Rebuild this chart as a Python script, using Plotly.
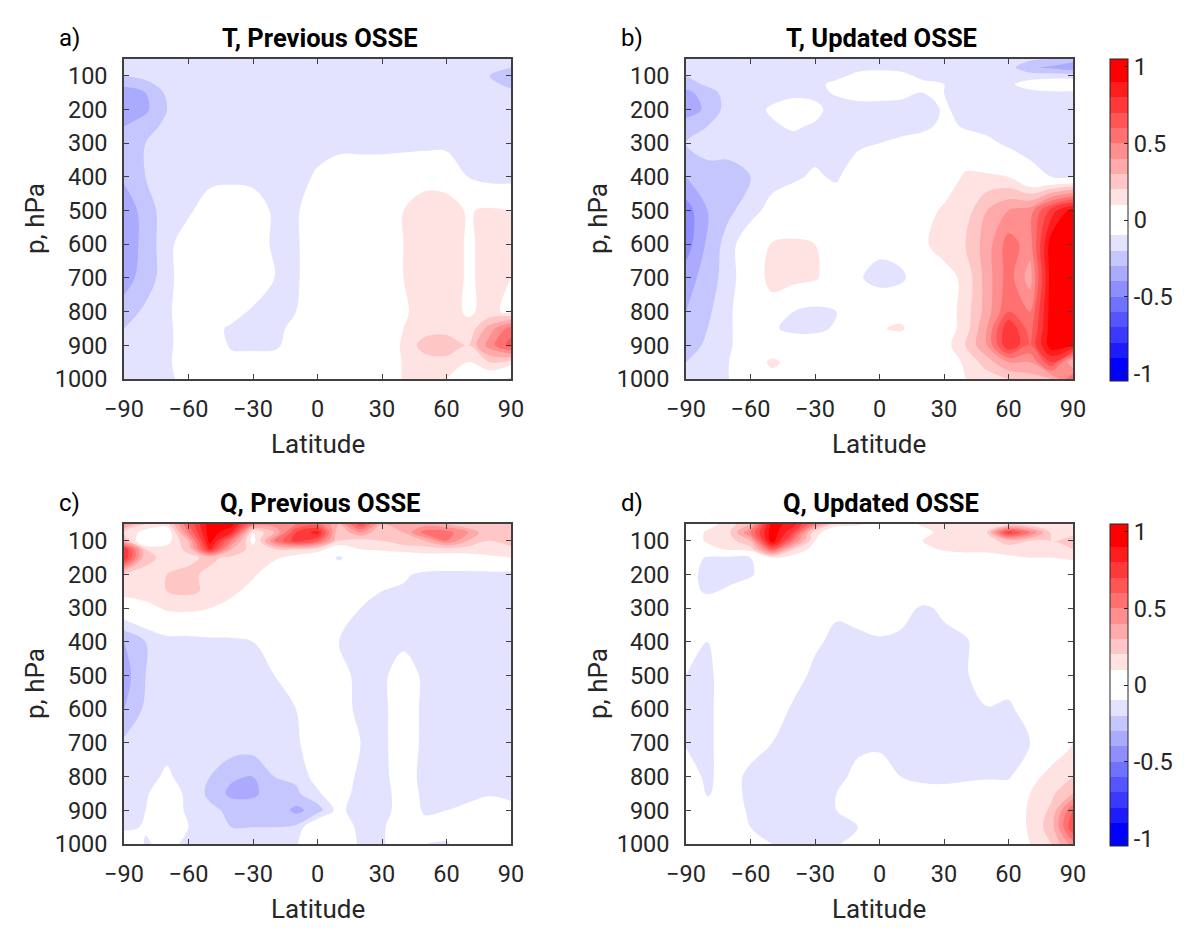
import plotly.graph_objects as go

# grid (lat every 10 deg, pressure in hPa)
latitudes = [-90, -80, -70, -60, -50, -40, -30, -20, -10, 0, 10, 20, 30, 40, 50, 60, 70, 80, 90]
pressure_levels = [50, 75, 100, 125, 150, 200, 250, 300, 400, 500, 600, 700, 800, 850, 900, 950, 1000]

t_previous = [
    [-0.2, -0.18, -0.18, -0.2, -0.17, -0.17, -0.17, -0.18, -0.17, -0.17, -0.18, -0.17, -0.17, -0.17, -0.17, -0.17, -0.18, -0.2, -0.2],
    [-0.2, -0.18, -0.17, -0.17, -0.17, -0.17, -0.17, -0.17, -0.17, -0.17, -0.17, -0.17, -0.17, -0.17, -0.17, -0.17, -0.17, -0.18, -0.2],
    [-0.2, -0.18, -0.17, -0.17, -0.17, -0.17, -0.17, -0.17, -0.17, -0.17, -0.17, -0.17, -0.17, -0.17, -0.17, -0.17, -0.18, -0.2, -0.25],
    [-0.28, -0.22, -0.17, -0.16, -0.16, -0.16, -0.16, -0.16, -0.16, -0.16, -0.16, -0.16, -0.16, -0.16, -0.16, -0.16, -0.17, -0.18, -0.22],
    [-0.35, -0.3, -0.18, -0.16, -0.16, -0.16, -0.16, -0.16, -0.16, -0.16, -0.16, -0.16, -0.16, -0.16, -0.16, -0.16, -0.15, -0.15, -0.18],
    [-0.38, -0.32, -0.2, -0.16, -0.16, -0.16, -0.16, -0.16, -0.16, -0.16, -0.16, -0.16, -0.16, -0.16, -0.15, -0.12, -0.15, -0.15, -0.15],
    [-0.3, -0.25, -0.17, -0.15, -0.14, -0.14, -0.15, -0.16, -0.16, -0.16, -0.16, -0.16, -0.16, -0.16, -0.15, -0.14, -0.15, -0.15, -0.15],
    [-0.25, -0.2, -0.15, -0.13, -0.13, -0.13, -0.15, -0.15, -0.15, -0.15, -0.15, -0.15, -0.15, -0.15, -0.15, -0.15, -0.15, -0.15, -0.15],
    [-0.28, -0.2, -0.15, -0.15, -0.15, -0.13, -0.15, -0.15, -0.15, -0.08, 0.0, 0.0, 0.0, 0.03, 0.07, 0.06, -0.1, -0.15, -0.15],
    [-0.38, -0.25, -0.15, -0.13, 0.0, 0.0, 0.0, -0.13, -0.12, 0.0, 0.0, 0.0, 0.0, 0.1, 0.14, 0.14, 0.09, 0.12, 0.1],
    [-0.4, -0.25, -0.15, 0.0, 0.0, 0.0, 0.0, -0.13, -0.12, 0.0, 0.0, 0.0, 0.0, 0.1, 0.14, 0.14, 0.09, 0.12, 0.13],
    [-0.35, -0.25, -0.15, 0.0, 0.0, 0.0, 0.0, -0.1, -0.12, 0.0, 0.0, 0.0, 0.0, 0.1, 0.14, 0.14, 0.09, 0.12, 0.1],
    [-0.25, -0.18, -0.13, 0.0, 0.0, -0.05, -0.12, -0.12, -0.1, 0.0, 0.0, 0.0, 0.0, 0.09, 0.13, 0.13, 0.09, 0.12, 0.08],
    [-0.2, -0.17, -0.14, 0.0, -0.06, -0.12, -0.12, -0.12, -0.08, 0.0, 0.0, 0.0, 0.0, 0.1, 0.15, 0.15, 0.12, 0.35, 0.55],
    [-0.2, -0.17, -0.14, 0.0, 0.0, -0.12, -0.12, -0.12, -0.05, 0.0, 0.0, 0.0, 0.0, 0.12, 0.25, 0.28, 0.2, 0.45, 0.65],
    [-0.17, -0.16, -0.13, 0.0, 0.0, -0.05, -0.06, -0.05, 0.0, 0.0, 0.0, 0.0, 0.0, 0.11, 0.15, 0.15, 0.1, 0.2, 0.15],
    [-0.15, -0.15, -0.13, -0.05, 0.0, 0.0, 0.0, 0.0, 0.0, 0.0, 0.0, 0.0, 0.0, 0.11, 0.12, 0.1, 0.05, 0.0, -0.13],
]

t_updated = [
    [-0.17, -0.15, -0.15, -0.15, -0.15, -0.15, -0.15, -0.15, -0.15, -0.15, -0.15, -0.15, -0.15, -0.15, -0.15, -0.15, -0.18, -0.2, -0.25],
    [-0.18, -0.15, -0.15, -0.15, -0.15, -0.15, -0.15, -0.15, -0.15, -0.15, -0.15, -0.15, -0.15, -0.15, -0.15, -0.16, -0.28, -0.32, -0.38],
    [-0.2, -0.15, -0.15, -0.15, -0.15, -0.15, -0.15, -0.15, -0.05, 0.0, -0.05, -0.14, -0.15, -0.15, -0.15, -0.15, -0.15, -0.15, -0.15],
    [-0.25, -0.18, -0.15, -0.15, -0.15, -0.15, -0.15, -0.05, 0.0, 0.0, 0.0, -0.06, -0.1, -0.15, -0.15, -0.12, -0.05, 0.0, 0.0],
    [-0.33, -0.25, -0.15, -0.15, -0.15, -0.15, -0.15, -0.08, 0.0, 0.0, -0.03, -0.1, -0.1, -0.15, -0.15, -0.15, -0.13, -0.12, -0.12],
    [-0.35, -0.28, -0.15, -0.15, -0.08, 0.0, -0.05, -0.18, -0.2, -0.2, -0.2, -0.18, -0.08, -0.15, -0.15, -0.15, -0.15, -0.15, -0.15],
    [-0.25, -0.2, -0.15, -0.15, -0.12, -0.08, -0.12, -0.18, -0.2, -0.2, -0.18, -0.15, -0.05, -0.12, -0.15, -0.15, -0.15, -0.15, -0.15],
    [-0.2, -0.18, -0.18, -0.15, -0.15, -0.15, -0.15, -0.15, -0.13, -0.1, -0.05, 0.0, 0.0, 0.0, -0.06, -0.13, -0.15, -0.15, -0.15],
    [-0.3, -0.22, -0.22, -0.2, -0.15, -0.12, -0.08, -0.12, 0.0, 0.0, 0.0, 0.0, 0.02, 0.12, 0.12, 0.1, -0.05, -0.1, -0.1],
    [-0.45, -0.3, -0.22, -0.15, -0.05, 0.0, 0.0, 0.0, 0.0, 0.0, 0.0, 0.05, 0.12, 0.15, 0.3, 0.4, 0.45, 0.75, 0.95],
    [-0.45, -0.28, -0.15, 0.0, 0.11, 0.12, 0.1, 0.05, 0.0, -0.05, -0.03, 0.08, 0.15, 0.2, 0.35, 0.55, 0.45, 0.97, 0.97],
    [-0.35, -0.25, -0.15, 0.0, 0.15, 0.15, 0.12, 0.0, -0.08, -0.16, -0.13, 0.0, 0.05, 0.13, 0.35, 0.55, 0.35, 0.97, 0.97],
    [-0.3, -0.22, -0.12, 0.0, 0.03, -0.1, -0.14, -0.1, 0.0, 0.05, 0.05, 0.0, 0.03, 0.15, 0.35, 0.6, 0.5, 0.97, 0.97],
    [-0.25, -0.2, -0.12, 0.0, -0.08, -0.14, -0.14, -0.08, 0.0, 0.09, 0.12, 0.0, 0.03, 0.15, 0.4, 0.8, 0.55, 0.97, 0.97],
    [-0.25, -0.18, -0.12, 0.0, 0.0, 0.0, 0.0, 0.0, 0.0, 0.0, 0.0, 0.0, 0.05, 0.2, 0.4, 0.8, 0.6, 0.97, 0.9],
    [-0.2, -0.15, -0.1, 0.0, 0.13, 0.05, 0.0, 0.0, 0.0, 0.0, 0.0, 0.0, 0.02, 0.12, 0.25, 0.4, 0.4, 0.7, 0.3],
    [-0.15, -0.14, -0.1, 0.0, 0.05, 0.0, 0.0, 0.0, 0.0, 0.0, 0.0, 0.0, 0.0, 0.1, 0.15, 0.2, 0.25, 0.3, 0.6],
]

q_previous = [
    [0.4, 0.2, 0.15, 0.6, 0.97, 0.95, 0.5, 0.45, 0.5, 0.55, 0.3, 0.7, 0.3, 0.3, 0.35, 0.3, 0.2, 0.2, 0.2],
    [0.2, 0.05, 0.0, 0.5, 0.97, 0.8, 0.1, 0.3, 0.7, 0.85, 0.2, 0.4, 0.2, 0.3, 0.55, 0.55, 0.4, 0.2, 0.25],
    [0.3, -0.05, 0.05, 0.3, 0.95, 0.5, 0.05, 0.5, 0.75, 0.6, 0.2, 0.15, 0.2, 0.25, 0.3, 0.5, 0.3, 0.2, 0.3],
    [0.8, 0.2, 0.15, 0.22, 0.8, 0.3, 0.15, 0.2, 0.2, 0.15, 0.0, 0.1, 0.12, 0.15, 0.15, 0.15, 0.15, 0.15, 0.15],
    [0.8, 0.22, 0.18, 0.18, 0.22, 0.18, 0.15, 0.12, 0.05, 0.0, -0.12, 0.0, 0.0, 0.0, 0.05, 0.05, 0.05, 0.08, 0.1],
    [0.18, 0.18, 0.2, 0.22, 0.18, 0.15, 0.12, 0.0, 0.0, 0.0, 0.0, 0.0, -0.05, -0.08, -0.13, -0.14, -0.14, -0.14, -0.14],
    [0.15, 0.17, 0.2, 0.22, 0.18, 0.13, 0.05, 0.0, 0.0, 0.0, 0.0, -0.08, -0.1, -0.12, -0.14, -0.14, -0.14, -0.14, -0.14],
    [0.0, 0.05, 0.12, 0.13, 0.1, 0.05, 0.0, 0.0, 0.0, 0.0, -0.05, -0.1, -0.12, -0.13, -0.14, -0.14, -0.14, -0.14, -0.14],
    [-0.3, -0.2, -0.15, -0.15, -0.13, -0.12, -0.1, -0.05, 0.0, 0.0, -0.1, -0.14, -0.14, -0.14, -0.14, -0.14, -0.14, -0.14, -0.14],
    [-0.35, -0.2, -0.15, -0.13, -0.12, -0.12, -0.12, -0.1, -0.03, 0.0, -0.05, -0.14, -0.14, 0.0, -0.14, -0.14, -0.14, -0.14, -0.14],
    [-0.3, -0.18, -0.14, -0.14, -0.14, -0.14, -0.14, -0.14, -0.1, 0.0, -0.03, -0.14, -0.14, 0.0, -0.14, -0.14, -0.14, -0.14, -0.14],
    [-0.18, -0.15, -0.14, -0.14, -0.14, -0.14, -0.14, -0.14, -0.12, -0.02, 0.0, -0.1, -0.14, 0.0, -0.14, -0.15, -0.16, -0.16, -0.15],
    [-0.15, -0.14, -0.08, -0.15, -0.2, -0.28, -0.3, -0.2, -0.18, -0.05, 0.0, -0.14, -0.14, -0.02, -0.15, -0.18, -0.18, -0.18, -0.16],
    [-0.15, -0.12, 0.0, -0.14, -0.22, -0.33, -0.33, -0.22, -0.22, -0.12, 0.0, -0.18, -0.18, 0.0, -0.14, -0.18, -0.16, -0.12, -0.14],
    [-0.15, -0.1, 0.0, -0.13, -0.18, -0.22, -0.22, -0.22, -0.33, -0.25, -0.05, -0.2, -0.18, 0.0, -0.12, -0.1, -0.05, 0.0, -0.05],
    [-0.15, -0.08, 0.0, -0.1, -0.15, -0.2, -0.2, -0.2, -0.18, 0.05, 0.0, -0.14, -0.12, 0.0, -0.05, 0.0, -0.05, 0.0, 0.0],
    [0.1, -0.12, -0.05, -0.14, -0.14, -0.15, -0.15, -0.15, -0.12, 0.1, 0.0, -0.12, -0.12, 0.0, -0.1, -0.12, 0.0, 0.0, -0.1],
]

q_updated = [
    [0.0, 0.05, 0.15, 0.3, 0.95, 0.85, 0.5, 0.12, 0.12, 0.05, 0.05, 0.12, 0.15, 0.15, 0.15, 0.15, 0.12, 0.12, 0.1],
    [0.0, 0.12, 0.18, 0.5, 0.97, 0.7, 0.12, 0.05, 0.0, 0.0, 0.0, 0.05, 0.15, 0.15, 0.2, 0.75, 0.5, 0.18, 0.15],
    [0.0, 0.12, 0.15, 0.3, 0.97, 0.5, 0.1, 0.0, 0.0, 0.0, 0.0, 0.1, 0.15, 0.15, 0.15, 0.25, 0.2, 0.2, 0.3],
    [0.0, 0.05, 0.12, 0.15, 0.6, 0.2, 0.05, 0.0, 0.0, 0.0, 0.0, 0.05, 0.12, 0.13, 0.13, 0.15, 0.15, 0.15, 0.2],
    [0.0, -0.12, -0.13, -0.1, 0.1, 0.05, 0.0, 0.0, 0.0, 0.0, 0.0, 0.0, 0.0, 0.05, 0.05, 0.08, 0.1, 0.1, 0.12],
    [-0.05, -0.14, -0.14, -0.12, 0.0, 0.0, 0.0, 0.0, 0.0, 0.0, 0.0, 0.0, 0.0, 0.0, 0.0, 0.0, 0.0, 0.0, 0.0],
    [-0.05, -0.12, -0.08, 0.0, 0.0, 0.0, 0.0, 0.0, 0.0, 0.0, 0.0, 0.0, 0.0, 0.0, 0.0, 0.0, 0.0, 0.0, 0.0],
    [0.0, 0.0, 0.0, 0.0, 0.0, 0.0, 0.0, -0.08, -0.05, 0.0, -0.05, -0.12, -0.08, 0.0, 0.0, 0.0, 0.0, 0.0, 0.0],
    [0.0, -0.1, -0.05, 0.0, 0.0, 0.0, -0.08, -0.13, -0.13, -0.12, -0.13, -0.14, -0.13, -0.12, 0.0, 0.0, 0.0, 0.0, 0.0],
    [-0.1, -0.12, -0.05, 0.0, 0.0, -0.05, -0.13, -0.14, -0.14, -0.14, -0.15, -0.16, -0.14, -0.12, 0.0, -0.05, 0.0, 0.0, 0.05],
    [-0.11, -0.12, -0.05, 0.0, -0.03, -0.12, -0.14, -0.15, -0.14, -0.14, -0.15, -0.16, -0.14, -0.12, -0.11, -0.12, -0.05, 0.0, 0.1],
    [-0.11, -0.12, -0.05, -0.05, -0.1, -0.14, -0.14, -0.15, -0.14, -0.14, -0.15, -0.15, -0.14, -0.12, -0.12, -0.13, -0.1, 0.0, 0.1],
    [-0.05, -0.12, -0.05, -0.13, -0.16, -0.17, -0.16, -0.15, -0.05, 0.0, -0.1, -0.13, -0.14, -0.12, -0.12, -0.12, 0.05, 0.15, 0.2],
    [0.0, -0.11, -0.05, -0.13, -0.17, -0.17, -0.15, -0.1, 0.0, 0.0, 0.0, -0.05, -0.05, -0.05, 0.0, 0.0, 0.1, 0.18, 0.3],
    [0.0, -0.05, 0.0, -0.13, -0.15, -0.15, -0.13, -0.1, -0.05, 0.0, 0.0, 0.0, 0.0, 0.0, 0.0, 0.0, 0.12, 0.22, 0.6],
    [0.0, 0.0, 0.0, -0.1, -0.14, -0.14, -0.12, -0.12, -0.1, 0.0, 0.0, 0.0, 0.0, 0.0, 0.0, 0.0, 0.12, 0.25, 0.7],
    [0.0, 0.0, 0.0, -0.05, -0.1, -0.14, -0.1, -0.12, 0.0, 0.0, 0.0, 0.0, 0.0, 0.0, 0.0, 0.0, 0.1, 0.2, 0.45],
]

panel_titles = ["T, Previous OSSE", "T, Updated OSSE", "Q, Previous OSSE", "Q, Updated OSSE"]
panel_letters = ["a)", "b)", "c)", "d)"]
lat_ticks = [-90, -60, -30, 0, 30, 60, 90]
p_ticks = [100, 200, 300, 400, 500, 600, 700, 800, 900, 1000]
cbar_ticks = [-1, -0.5, 0, 0.5, 1]

W, H = 1200, 944
PAGE_PAD = 8  # default body margin of the html page
FONT = "Roboto, 'Open Sans', sans-serif"
INK = "#262626"


def band_color(k):
    # 20 bands of 0.1 from -1 to 1, two white bands around zero
    if k <= 8:
        f = (9 - k) / 9
        v = round(255 * (1 - f))
        return f"rgb({v},{v},255)"
    if k >= 11:
        f = (k - 10) / 9
        v = round(255 * (1 - f))
        return f"rgb(255,{v},{v})"
    return "rgb(255,255,255)"


# plotly samples fill colours at (k+1)/21 for band k when start=-1, end=1, size=0.1
colorscale = [[0.0, band_color(0)]]
for k in range(20):
    colorscale.append([(k + 1) / 21, band_color(k)])
colorscale.append([1.0, band_color(19)])


def px_x(v):
    return (v - PAGE_PAD) / W


def px_y(v):
    return 1 - (v - PAGE_PAD) / H


x_px = [(124, 511), (686, 1073)]
y_px = [(59, 379), (524, 844)]

fig = go.Figure()
fields = [t_previous, t_updated, q_previous, q_updated]
annotations = []
for i, z in enumerate(fields):
    row, col = divmod(i, 2)
    n = i + 1
    xa = "x" if n == 1 else f"x{n}"
    ya = "y" if n == 1 else f"y{n}"
    xl, xr = x_px[col]
    ytop, ybot = y_px[row]
    fig.add_trace(
        go.Contour(
            x=latitudes,
            y=pressure_levels,
            z=z,
            xaxis=xa,
            yaxis=ya,
            autocontour=False,
            contours=dict(start=-1, end=1, size=0.1, coloring="fill", showlines=False),
            line=dict(width=0, smoothing=1.0),
            colorscale=colorscale,
            showscale=(col == 1),
            colorbar=dict(
                x=px_x(1110),
                xanchor="left",
                xpad=0,
                y=px_y((ytop + ybot + 2) / 2),
                yanchor="middle",
                ypad=0,
                len=(ybot - ytop + 2) / H,
                lenmode="fraction",
                thickness=18,
                thicknessmode="pixels",
                outlinecolor=INK,
                outlinewidth=1,
                tickvals=cbar_ticks,
                ticktext=["-1", "-0.5", "0", "0.5", "1"],
                ticks="inside",
                ticklen=4,
                tickcolor=INK,
                tickfont=dict(size=23.5, color=INK, family=FONT),
            ),
            hoverinfo="skip",
        )
    )
    axis_common = dict(
        showline=True,
        linecolor="#404040",
        linewidth=1.5,
        mirror="ticks",
        ticks="inside",
        ticklen=5,
        tickwidth=1.2,
        tickcolor="#404040",
        showgrid=False,
        zeroline=False,
        automargin=False,
        tickfont=dict(size=23.5, color=INK, family=FONT),
    )
    fig.update_layout(
        {
            ("xaxis" if n == 1 else f"xaxis{n}"): dict(
                axis_common,
                domain=[px_x(xl), px_x(xr)],
                anchor=ya,
                range=[-90, 90],
                tickvals=lat_ticks,
                ticklabelstandoff=8,
            ),
            ("yaxis" if n == 1 else f"yaxis{n}"): dict(
                axis_common,
                domain=[px_y(ybot), px_y(ytop)],
                anchor=xa,
                range=[1000, 50],
                tickvals=p_ticks,
                ticklabelstandoff=10,
            ),
        }
    )
    xc = px_x((xl + xr) / 2)
    title_y = 38 if row == 0 else 503
    annotations.append(dict(
        text=f"<b>{panel_titles[i]}</b>", x=px_x(320 if col == 0 else 881), y=px_y(title_y),
        xref="paper", yref="paper", showarrow=False,
        font=dict(size=25.5, color="black", family=FONT), xanchor="center", yanchor="middle",
    ))
    letter_x = 69 if col == 0 else 632
    annotations.append(dict(
        text=panel_letters[i], x=px_x(letter_x), y=px_y(title_y), xref="paper", yref="paper",
        showarrow=False, font=dict(size=24, color="black", family=FONT), xanchor="center", yanchor="middle",
    ))
    annotations.append(dict(
        text="Latitude", x=xc, y=px_y(ybot + 65), xref="paper", yref="paper",
        showarrow=False, font=dict(size=26, color=INK, family=FONT), xanchor="center", yanchor="middle",
    ))
    ylab_x = 35 if col == 0 else 598
    annotations.append(dict(
        text="p, hPa", x=px_x(ylab_x), y=px_y((ytop + ybot) / 2), xref="paper", yref="paper",
        showarrow=False, textangle=-90, font=dict(size=26, color=INK, family=FONT),
        xanchor="center", yanchor="middle",
    ))

fig.update_layout(
    width=W,
    height=H,
    margin=dict(l=0, r=0, t=0, b=0, pad=0, autoexpand=False),
    paper_bgcolor="white",
    plot_bgcolor="white",
    font=dict(family=FONT, color=INK),
    annotations=annotations,
    showlegend=False,
)

fig.write_html("out.html")
